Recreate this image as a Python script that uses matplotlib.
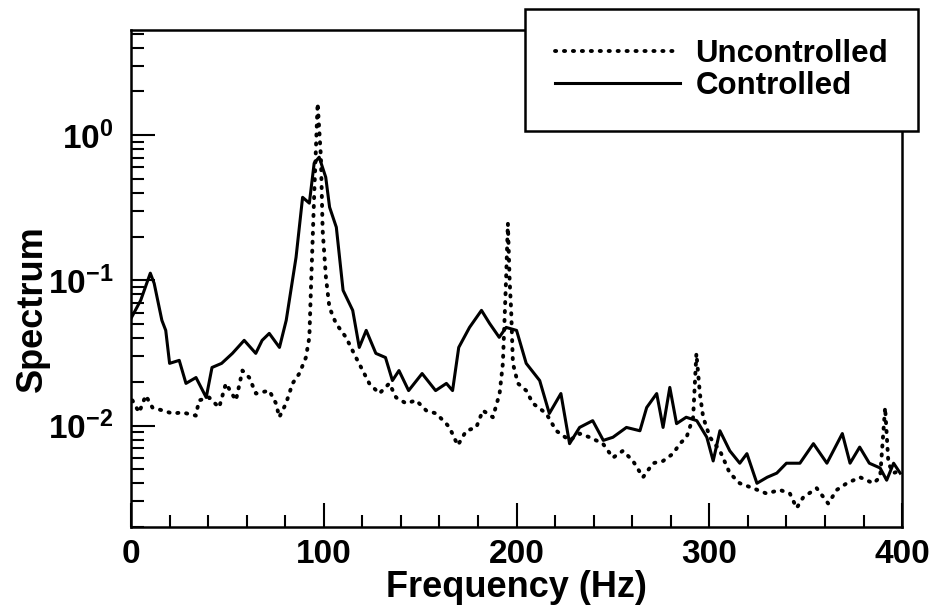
import numpy as np
import matplotlib
matplotlib.use("Agg")
import matplotlib.pyplot as plt
from matplotlib.ticker import MultipleLocator, LogLocator

# values
freq_ctrl = [0, 5, 10, 12, 16, 18, 20, 25, 28.5, 33.7, 39, 42, 47, 52.6, 58.7, 64.7, 68, 71.7,
             77, 80.5, 85.6, 89, 92.5, 95, 97.6, 101, 103, 106.5, 110, 115, 118.4, 122, 127,
             132, 135.6, 139, 144, 151, 158, 163.6, 166.8, 170, 175.6, 181.8, 186, 191, 194.6,
             200, 205, 212, 217, 223, 227.5, 232.7, 239.5, 245, 250, 257, 264, 267.5, 272.7,
             276, 279.5, 283, 288, 293.5, 298.7, 302, 305.5, 310.6, 315.8, 319.5, 324.7, 330,
             335, 340, 347, 354, 361, 369, 373, 378, 383, 388.6, 392, 395.6, 399]
spec_ctrl = [0.0547, 0.0728, 0.112, 0.0953, 0.053, 0.0452, 0.0268, 0.0281, 0.0195, 0.0214,
             0.0156, 0.0251, 0.0268, 0.0314, 0.0386, 0.0314, 0.0386, 0.0431, 0.0345, 0.053,
             0.144, 0.373, 0.340, 0.641, 0.705, 0.513, 0.319, 0.232, 0.0853, 0.0621, 0.0345,
             0.0452, 0.0314, 0.0294, 0.0204, 0.0239, 0.0174, 0.0228, 0.0174, 0.0195, 0.0174,
             0.0345, 0.0474, 0.0621, 0.0505, 0.0405, 0.0474, 0.0452, 0.0268, 0.0204, 0.0121,
             0.0166, 0.0075, 0.0097, 0.0108, 0.0079, 0.0083, 0.0097, 0.0092, 0.0133, 0.0166,
             0.0097, 0.0183, 0.0103, 0.0114, 0.0108, 0.0083, 0.0057, 0.0092, 0.0067, 0.0055,
             0.0064, 0.0040, 0.0044, 0.0047, 0.0055, 0.0055, 0.0075, 0.0055, 0.0088, 0.0055,
             0.0071, 0.0055, 0.0051, 0.0042, 0.0055, 0.0047]

freq_unc = [0.7, 4.2, 7.6, 11.1, 16.3, 21.5, 26.7, 33.6, 35.3, 40.5, 45.7, 49.2, 54.4, 57.8,
            61.3, 64.8, 71.7, 75.2, 76.9, 80.4, 83.8, 87.3, 90.7, 92.5, 93.3, 94.2, 95.1, 96.8,
            98.5, 99.4, 101.1, 102.9, 106.3, 111.5, 116.7, 120.2, 123.6, 128.8, 134, 137.5,
            142.7, 147.9, 153.1, 158.3, 163.5, 165.2, 169.5, 173.9, 179.1, 182.5, 187.7, 191.2,
            192.9, 194.6, 195.5, 196.4, 197.2, 198.1, 200.7, 205, 208.5, 215.4, 220.6, 227.5,
            232.7, 237.9, 244.8, 250, 255.2, 260.4, 265.6, 270.8, 276, 281.2, 284.7, 288.2,
            291.6, 293.3, 295.1, 296.8, 300.3, 305.5, 310.6, 315.8, 322.7, 329.7, 336.6, 341.8,
            345.3, 348.7, 355.7, 361.7, 366.1, 371.3, 378.2, 385.1, 388.6, 391.2, 392.9, 395.5, 399]
spec_unc = [0.0149, 0.0123, 0.0161, 0.0133, 0.0127, 0.0121, 0.0123, 0.0117, 0.0149, 0.0156,
            0.0133, 0.0195, 0.0149, 0.0239, 0.0214, 0.0166, 0.0174, 0.0142, 0.0114, 0.0142,
            0.0195, 0.0228, 0.0294, 0.0405, 0.0853, 0.189, 0.418, 1.66, 0.705, 0.221, 0.105,
            0.0652, 0.0505, 0.0405, 0.0294, 0.0239, 0.0195, 0.0166, 0.0195, 0.0156, 0.0142,
            0.0149, 0.0127, 0.0121, 0.0103, 0.0097, 0.0073, 0.0092, 0.0097, 0.0127, 0.0114,
            0.0166, 0.0268, 0.105, 0.247, 0.1, 0.0621, 0.0268, 0.0195, 0.0174, 0.0142, 0.0121,
            0.0092, 0.0079, 0.0088, 0.0083, 0.0075, 0.0060, 0.0067, 0.0057, 0.0044, 0.0055,
            0.0057, 0.0064, 0.0075, 0.0083, 0.0114, 0.0314, 0.0166, 0.0114, 0.0083, 0.0067,
            0.0047, 0.0040, 0.0037, 0.0034, 0.0036, 0.0034, 0.0027, 0.0032, 0.0037, 0.0029,
            0.0036, 0.0040, 0.0044, 0.0040, 0.0044, 0.0133, 0.0055, 0.0047, 0.0049]

plt.rcParams['font.family'] = ['Liberation Sans', 'DejaVu Sans']
plt.rcParams['font.weight'] = 'bold'
plt.rcParams['axes.labelweight'] = 'bold'
plt.rcParams['mathtext.fontset'] = 'custom'
plt.rcParams['mathtext.rm'] = 'Liberation Sans:bold'
plt.rcParams['mathtext.default'] = 'rm'

fig = plt.figure(figsize=(9.32, 6.13), dpi=100)
ax = fig.add_axes([0.1406, 0.1403, 0.8273, 0.8108])

ax.plot(freq_unc, spec_unc, color='black', lw=2.8, linestyle=(0, (0.3, 2.0)),
        dash_capstyle='round', label='Uncontrolled')
ax.plot(freq_ctrl, spec_ctrl, color='black', lw=2.2, label='Controlled')

ax.set_yscale('log')
ax.set_xlim(0, 400)
ax.set_ylim(0.002, 5.3)
ax.xaxis.set_major_locator(MultipleLocator(100))
ax.xaxis.set_minor_locator(MultipleLocator(20))
ax.yaxis.set_major_locator(LogLocator(base=10, numticks=10))
ax.yaxis.set_minor_locator(LogLocator(base=10, subs=np.arange(2, 10), numticks=20))

ax.tick_params(which='both', direction='in', top=False, right=False, width=1.5, labelsize=24)
ax.tick_params(which='major', length=17, pad=9)
ax.tick_params(axis='y', which='major', pad=13)
ax.tick_params(which='minor', length=9)
for s in ax.spines.values():
    s.set_linewidth(1.8)

ax.set_xlabel('Frequency (Hz)', fontsize=26, fontweight='bold', labelpad=0)
ax.set_ylabel('Spectrum', fontsize=26, fontweight='bold')
ax.yaxis.set_label_coords(-0.105, 0.44)

leg = ax.legend(loc='upper right', bbox_to_anchor=(918 / 932, 1 - 9 / 613),
                bbox_transform=fig.transFigure, fontsize=22.5, frameon=True, fancybox=False,
                framealpha=1, edgecolor='black', borderpad=0.95, handlelength=4.0,
                handletextpad=0.5, labelspacing=0.08, borderaxespad=0)
leg.get_frame().set_linewidth(1.8)

fig.savefig('out.png', dpi=100)
